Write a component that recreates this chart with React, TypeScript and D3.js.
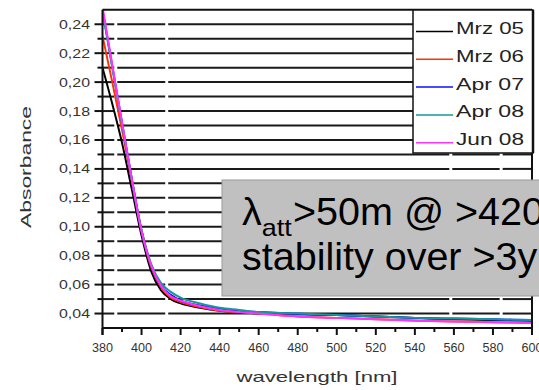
import React from "react";
import * as d3 from "d3";

const wavelengths = [380, 385, 390, 395, 400, 405, 410, 415, 420, 430, 440, 450, 460, 480, 500, 520, 540, 560, 580, 600];

const mrz05 = [0.210, 0.185, 0.158, 0.126, 0.094, 0.069, 0.056, 0.050, 0.047, 0.044, 0.042, 0.041, 0.040, 0.0395, 0.039, 0.038, 0.037, 0.036, 0.0355, 0.035];
const mrz06 = [0.232, 0.200, 0.167, 0.132, 0.097, 0.072, 0.058, 0.051, 0.048, 0.0445, 0.042, 0.041, 0.040, 0.038, 0.037, 0.036, 0.0352, 0.0345, 0.034, 0.0335];
const apr07 = [0.250, 0.211, 0.172, 0.133, 0.097, 0.073, 0.059, 0.053, 0.049, 0.0455, 0.0435, 0.042, 0.041, 0.0398, 0.039, 0.038, 0.037, 0.0365, 0.036, 0.0355];
const apr08 = [0.249, 0.210, 0.171, 0.133, 0.098, 0.074, 0.061, 0.055, 0.051, 0.047, 0.044, 0.0425, 0.041, 0.040, 0.039, 0.038, 0.037, 0.0365, 0.036, 0.0355];
const jun08 = [0.252, 0.212, 0.172, 0.133, 0.097, 0.073, 0.059, 0.052, 0.049, 0.045, 0.0425, 0.041, 0.040, 0.038, 0.037, 0.036, 0.035, 0.0345, 0.034, 0.0335];

const seriesNames = ["Mrz 05", "Mrz 06", "Apr 07", "Apr 08", "Jun 08"];
const seriesValues = [mrz05, mrz06, apr07, apr08, jun08];
const seriesColors = ["#000000", "#ff3300", "#0a10ff", "#129a98", "#ff33ff"];

const xMajorTicks = [380, 400, 420, 440, 460, 480, 500, 520, 540, 560, 580, 600];
const xMinorTicks = [390, 410, 430, 450, 470, 490, 510, 530, 550, 570, 590];
const yMajorTicks = [0.04, 0.06, 0.08, 0.10, 0.12, 0.14, 0.16, 0.18, 0.20, 0.22, 0.24];
const yMinorTicks = [0.05, 0.07, 0.09, 0.11, 0.13, 0.15, 0.17, 0.19, 0.21, 0.23];
const gridGapsNm = [386.8, 412.9, 558.4, 584.2];

const xLabel = "wavelength [nm]";
const yLabel = "Absorbance";
const noteLine1Main = "λ";
const noteLine1Sub = "att";
const noteLine1Rest = ">50m @ >420";
const noteLine2 = "stability over >3y";

const W = 539;
const H = 390;
const left = 102.5;
const right = 532;
const top = 9.8;
const bottom = 328;

export default function App() {
  const x = d3.scaleLinear().domain([380, 600]).range([left, right]);
  const y = d3.scaleLinear().domain([0.03, 0.25]).range([bottom, top]);

  const line = d3
    .line<number>()
    .x((_, i) => x(wavelengths[i]))
    .y((d) => y(d))
    .curve(d3.curveMonotoneX);

  const gridRows = [...yMajorTicks, ...yMinorTicks];
  const gapXs = gridGapsNm.map((g) => x(g));
  const segBounds = [left, ...gapXs, right];

  const fmt = (v: number) => v.toFixed(2).replace(".", ",");

  const legX = 413;
  const legY = 10;
  const legW = 120;
  const legH = 143;

  return (
    <svg
      width={W}
      height={H}
      style={{ position: "absolute", left: 0, top: 0, background: "#fff" }}
      fontFamily="'Liberation Sans', Arial, sans-serif"
    >
      <defs>
        <clipPath id="plotClip">
          <rect x={left} y={top} width={right - left} height={bottom - top} />
        </clipPath>
      </defs>
      <rect x={0} y={0} width={W} height={H} fill="#fff" />

      {gridRows.map((v, ri) => (
        <g key={"g" + ri}>
          {segBounds.slice(0, -1).map((s, i) => {
            const a = i === 0 ? s : s + 1.5;
            const b = i === segBounds.length - 2 ? segBounds[i + 1] : segBounds[i + 1] - 1.5;
            return (
              <line key={i} x1={a} x2={b} y1={y(v)} y2={y(v)} stroke="#1a1a1a" strokeWidth={2} />
            );
          })}
        </g>
      ))}

      {yMajorTicks.map((v, i) => (
        <line key={"ymt" + i} x1={left - 8} x2={left} y1={y(v)} y2={y(v)} stroke="#111" strokeWidth={2} />
      ))}
      {yMinorTicks.map((v, i) => (
        <line key={"ymn" + i} x1={left - 5} x2={left} y1={y(v)} y2={y(v)} stroke="#111" strokeWidth={2} />
      ))}
      {yMajorTicks.map((v, i) => (
        <text
          key={"yl" + i}
          x={90}
          y={y(v) + 4.5}
          textAnchor="end"
          fontSize={13}
          fill="#333"
          textLength={31}
          lengthAdjust="spacingAndGlyphs"
        >
          {fmt(v)}
        </text>
      ))}

      {xMajorTicks.map((v, i) => (
        <line key={"xmt" + i} x1={x(v)} x2={x(v)} y1={bottom} y2={bottom + 7} stroke="#111" strokeWidth={2} />
      ))}
      {xMinorTicks.map((v, i) => (
        <line key={"xmn" + i} x1={x(v)} x2={x(v)} y1={bottom} y2={bottom + 4} stroke="#111" strokeWidth={2} />
      ))}
      {xMajorTicks.map((v, i) => (
        <text
          key={"xl" + i}
          x={x(v)}
          y={351.5}
          textAnchor="middle"
          fontSize={13}
          fill="#333"
          textLength={21}
          lengthAdjust="spacingAndGlyphs"
        >
          {v}
        </text>
      ))}

      <g clipPath="url(#plotClip)">
        {seriesValues.map((vals, i) => (
          <path key={"s" + i} d={line(vals) || ""} fill="none" stroke={seriesColors[i]} strokeWidth={2} />
        ))}
      </g>

      <line x1={left} x2={right} y1={top} y2={top} stroke="#111" strokeWidth={2} />
      <line x1={right} x2={right} y1={top} y2={bottom} stroke="#111" strokeWidth={2} />
      <line x1={left} x2={right} y1={bottom} y2={bottom} stroke="#111" strokeWidth={2} />
      <line x1={left} x2={left} y1={top} y2={bottom + 7} stroke="#111" strokeWidth={2} />

      <rect x={legX} y={legY} width={legW} height={legH} fill="#fff" stroke="#111" strokeWidth={1.5} />
      <line x1={legX + legW} x2={legX + legW} y1={legY} y2={legY + legH} stroke="#111" strokeWidth={2.5} />
      {seriesNames.map((n, i) => {
        const ly = 31.5 + i * 27.8;
        return (
          <g key={"lg" + i}>
            <line x1={416} x2={453} y1={ly} y2={ly} stroke={seriesColors[i]} strokeWidth={1.5} />
            <text
              x={456}
              y={ly + 2.5}
              fontSize={17}
              fill="#222"
              textLength={68}
              lengthAdjust="spacingAndGlyphs"
            >
              {n}
            </text>
          </g>
        );
      })}

      <text
        x={317}
        y={382}
        textAnchor="middle"
        fontSize={15}
        fill="#333"
        textLength={161}
        lengthAdjust="spacingAndGlyphs"
      >
        {xLabel}
      </text>
      <text
        transform={`translate(31,167) rotate(-90)`}
        textAnchor="middle"
        fontSize={14}
        fill="#333"
        textLength={122}
        lengthAdjust="spacingAndGlyphs"
      >
        {yLabel}
      </text>

      <rect x={222} y={180} width={330} height={116} fill="#c0c0c0" stroke="#9a9a9a" strokeWidth={1} />
      <text x={242} y={225} fontSize={39.5} fill="#000">
        {noteLine1Main}
        <tspan fontSize={24} dy={11} textLength={30} lengthAdjust="spacingAndGlyphs">
          {noteLine1Sub}
        </tspan>
        <tspan fontSize={39.5} dy={-11} x={293}>
          {noteLine1Rest}
        </tspan>
      </text>
      <text x={242} y={270} fontSize={39.5} fill="#000">
        {noteLine2}
      </text>
    </svg>
  );
}
